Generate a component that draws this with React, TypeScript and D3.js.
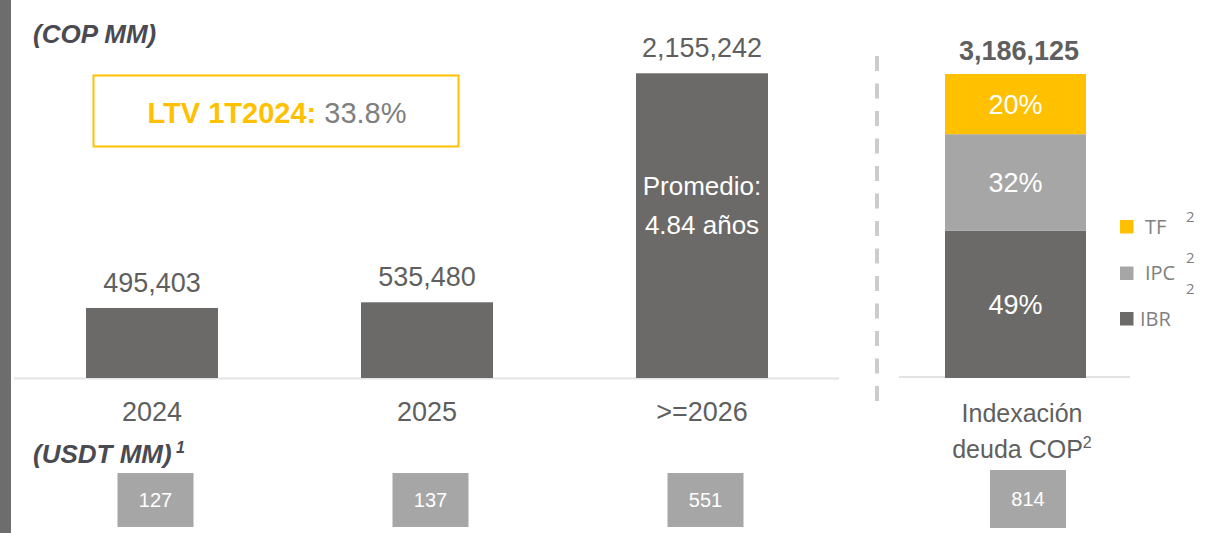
import React from "react";
import * as d3 from "d3";

const categories = ["2024", "2025", ">=2026"];
const values = [495403, 535480, 2155242];
const usdValues = [127, 137, 551];
const totalLabel = "3,186,125";
const totalUsd = 814;
const stackKeys = ["IBR", "IPC", "TF"];
const stackValues = [49, 32, 20];
const stackLabels = ["49%", "32%", "20%"];
const legendItems = ["TF", "IPC", "IBR"];

const W = 1223;
const H = 533;
const FONT = "'Liberation Sans', Arial, sans-serif";
const DARK = "#6b6a68";
const LIGHT = "#a6a6a6";
const YELLOW = "#ffc000";
const TEXT = "#5f5f5f";

export default function App() {
  const baseline = 378;
  const x = d3.scaleBand<string>().domain(categories).range([14.5, 839.5]).paddingInner(0.52).paddingOuter(0.26);
  const y = d3.scaleLinear().domain([0, 2155242]).range([baseline, 73.3]);
  const fmt = d3.format(",");

  const stackColors: Record<string, string> = { IBR: DARK, IPC: LIGHT, TF: YELLOW };
  const ys = d3.scaleLinear().domain([0, d3.sum(stackValues)]).range([baseline, 74]);
  const stackX = 945;
  const stackW = 141;
  let cum = 0;
  const segs = stackValues.map((v, i) => {
    const s = { key: stackKeys[i], y0: cum, y1: cum + v, label: stackLabels[i] };
    cum += v;
    return s;
  });

  const legendY = [226.5, 273, 318.5];
  const legendX = [1145, 1145, 1140];
  const boxCenters = categories.map((c) => (x(c) as number) + x.bandwidth() / 2 + 3.5);

  return (
    <svg width={W} height={H} style={{ position: "absolute", left: 0, top: 0, display: "block" }} fontFamily={FONT}>
      <rect x={0} y={0} width={W} height={H} fill="#fff" />
      <rect x={0} y={0} width={11} height={H} fill="#6d6d6d" />

      <text x={33} y={43} fontSize={26} fontWeight="bold" fontStyle="italic" fill="#4a4a52">(COP MM)</text>

      <rect x={93.5} y={75.5} width={365} height={71} fill="none" stroke={YELLOW} strokeWidth={2} />
      <text x={277} y={123} fontSize={29} textAnchor="middle">
        <tspan fill={YELLOW} fontWeight="bold">LTV 1T2024:</tspan>
        <tspan fill="#7f7f7f"> 33.8%</tspan>
      </text>

      <line x1={14} x2={839} y1={baseline + 0.5} y2={baseline + 0.5} stroke="#e3e3e3" strokeWidth={2} />
      <line x1={899} x2={1130} y1={baseline - 1} y2={baseline - 1} stroke="#e3e3e3" strokeWidth={2} />

      {categories.map((c, i) => {
        const cx = (x(c) as number) + x.bandwidth() / 2;
        return (
          <g key={c}>
            <rect x={x(c)} y={y(values[i])} width={x.bandwidth()} height={baseline - y(values[i])} fill={DARK} />
            <text x={cx} y={y(values[i]) - 16} fontSize={27} textAnchor="middle" fill={TEXT}>{fmt(values[i])}</text>
            <text x={cx} y={421} fontSize={27} textAnchor="middle" fill={TEXT}>{c}</text>
          </g>
        );
      })}

      <text x={702} y={195} fontSize={26} textAnchor="middle" fill="#fff">Promedio:</text>
      <text x={702} y={234} fontSize={26} textAnchor="middle" fill="#fff">4.84 años</text>

      <line x1={877} x2={877} y1={56} y2={410} stroke="#cccccc" strokeWidth={4} strokeDasharray="15 12.5" />

      {segs.map((s) => (
        <g key={s.key}>
          <rect x={stackX} y={ys(s.y1)} width={stackW} height={ys(s.y0) - ys(s.y1)} fill={stackColors[s.key]} />
          <text x={stackX + stackW / 2} y={(ys(s.y0) + ys(s.y1)) / 2 + 10} fontSize={27} textAnchor="middle" fill="#fff">{s.label}</text>
        </g>
      ))}
      <text x={1019} y={60} fontSize={27} fontWeight="bold" textAnchor="middle" fill={TEXT}>{totalLabel}</text>

      {legendItems.map((k, i) => (
        <g key={k}>
          <rect x={1120} y={legendY[i] - 6.5} width={13.5} height={13.5} fill={stackColors[k]} />
          <text x={legendX[i]} y={legendY[i] + 7} fontSize={20} fill="#7f7f7f" fontFamily="'Open Sans', sans-serif">{k}</text>
        </g>
      ))}
      {[222, 263, 294].map((yy, i) => (
        <text key={i} x={1186} y={yy} fontSize={15} fill="#7f7f7f" fontFamily="'Open Sans', sans-serif">2</text>
      ))}

      <text x={1022} y={422} fontSize={25} textAnchor="middle" fill={TEXT}>Indexación</text>
      <text x={1022} y={458} fontSize={25} textAnchor="middle" fill={TEXT}>
        deuda COP<tspan fontSize={16} dy={-10}>2</tspan>
      </text>

      <text x={33} y={463} fontSize={26} fontWeight="bold" fontStyle="italic" fill="#4a4a52">
        (USDT MM)<tspan fontSize={16} dy={-10}> 1</tspan>
      </text>

      {usdValues.map((v, i) => (
        <g key={i}>
          <rect x={boxCenters[i] - 38} y={473} width={76} height={54} fill={LIGHT} />
          <text x={boxCenters[i]} y={507} fontSize={20} textAnchor="middle" fill="#fff">{v}</text>
        </g>
      ))}
      <rect x={990} y={470} width={76} height={58} fill={LIGHT} />
      <text x={1028} y={506} fontSize={20} textAnchor="middle" fill="#fff">{totalUsd}</text>
    </svg>
  );
}
